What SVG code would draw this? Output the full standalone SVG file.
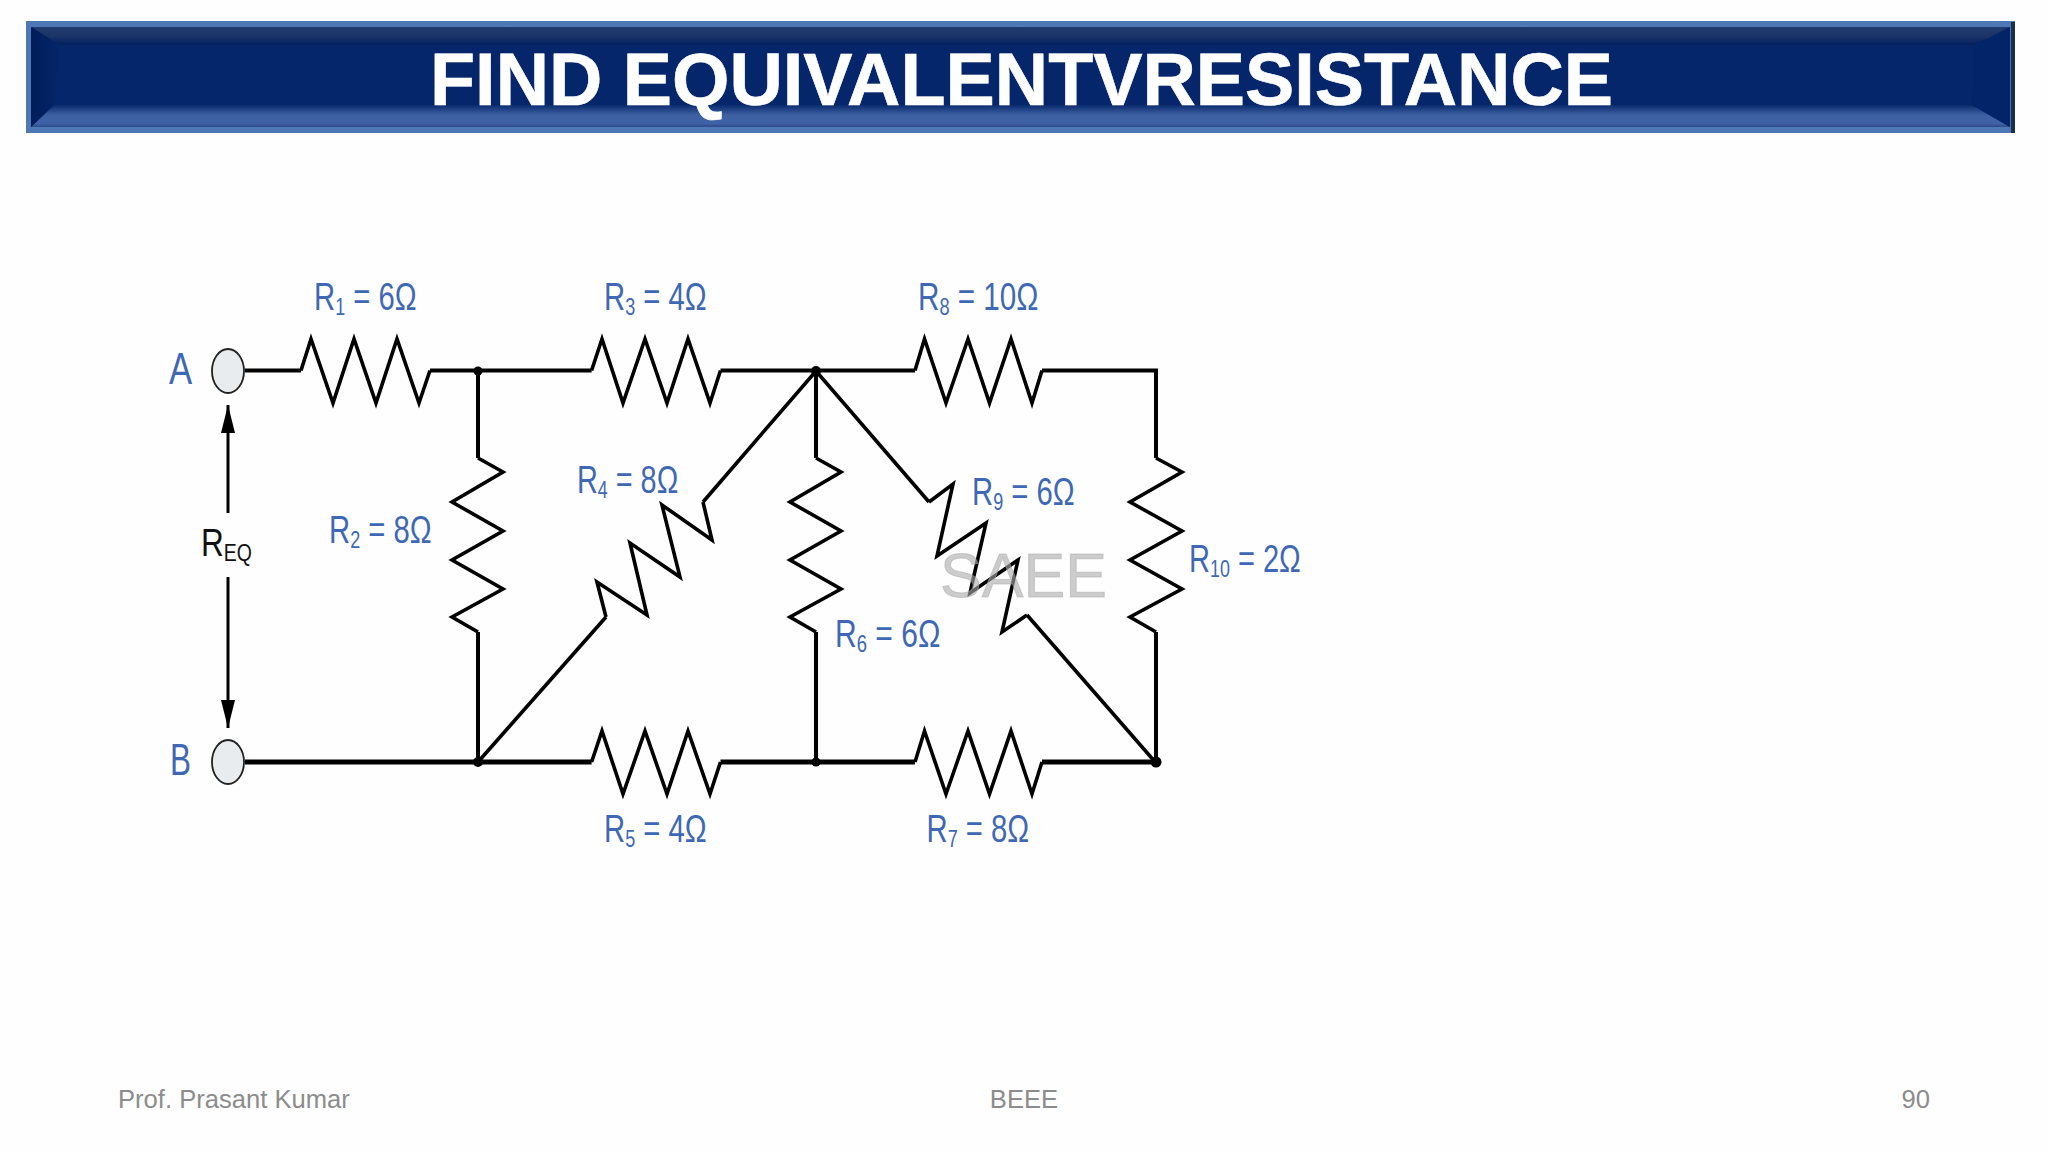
<svg xmlns="http://www.w3.org/2000/svg" width="2048" height="1152" viewBox="0 0 2048 1152">
<style>
.z{fill:none;stroke:#000;stroke-width:3.6;stroke-linejoin:miter;stroke-miterlimit:6}
.w{fill:none;stroke:#000;stroke-width:4}
.a{fill:none;stroke:#000;stroke-width:3}
.l{font-family:"Liberation Sans",Arial,sans-serif;font-size:39px;fill:#3f68b4}
.s{font-size:24px}
.t{fill:#e9ecef;stroke:#222;stroke-width:1.8}
.f{font-family:"Liberation Sans",Arial,sans-serif;font-size:25.6px;fill:#8c8c8c}
</style>
<defs>
<linearGradient id="gt" x1="0" y1="0" x2="0" y2="1"><stop offset="0" stop-color="#223b6e"/><stop offset=".5" stop-color="#1c3569"/><stop offset="1" stop-color="#02205f"/></linearGradient>
<linearGradient id="gb" x1="0" y1="0" x2="0" y2="1"><stop offset="0" stop-color="#0a2b6c"/><stop offset=".45" stop-color="#3d60a3"/><stop offset=".85" stop-color="#3f62a6"/><stop offset="1" stop-color="#2c4a86"/></linearGradient>
<linearGradient id="gl" x1="0" y1="0" x2="1" y2="0"><stop offset="0" stop-color="#011d58"/><stop offset="1" stop-color="#05266a"/></linearGradient>
<marker id="ar" viewBox="0 0 28 14" refX="28" refY="7" markerWidth="28" markerHeight="14" orient="auto" markerUnits="userSpaceOnUse"><path d="M0 0L28 7L0 14Z" fill="#000"/></marker>
</defs>
<rect width="2048" height="1152" fill="#fefefe"/>
<g id="title-bar">
<rect x="26" y="21" width="1989" height="112" fill="#4d78b5"/>
<rect x="31" y="27" width="1979" height="100" fill="#05266a"/>
<polygon points="31,27 2010,27 1975,45 60,45" fill="url(#gt)"/>
<polygon points="31,127 2010,127 1972,105 54,105" fill="url(#gb)"/>
<polygon points="31,27 60,45 54,105 31,127" fill="url(#gl)"/>
<polygon points="2010,27 1975,45 1972,105 2010,127" fill="#04246a"/>
<rect x="2011" y="22" width="4" height="111" fill="#1a3048"/>
<text x="1021.500" y="105" text-anchor="middle" textLength="1183" lengthAdjust="spacingAndGlyphs" style="font-family:'Liberation Sans',Arial,sans-serif;font-weight:700;font-size:74px;fill:#fff;stroke:#fff;stroke-width:.6">FIND EQUIVALENTVRESISTANCE</text>
</g>
<g id="connectors">
<path class="w" d="M245 370.5H301M430 370.5H591.6M720.5 370.5H915M1042 370.5H1156V458"/>
<path class="w" style="stroke-width:5" d="M245 762H591.6M720.5 762H915M1042 762H1156"/>
<path class="w" d="M478 370.5V458M478 632V762M816 370.5V458M816 632V762M1156 632V762"/>
<path class="z" d="M478 762L606 617M703 502L816 371L929 502M1027 615L1156 763"/>
<path class="a" marker-end="url(#ar)" d="M228 513V405"/>
<path class="a" marker-end="url(#ar)" d="M228 577V728"/>
<circle cx="478" cy="371" r="4.5"/><circle cx="816" cy="371" r="5"/><circle cx="478" cy="762" r="5"/><circle cx="816" cy="762" r="4.5"/><circle cx="1156" cy="762" r="5.5"/>
</g>
<g id="A"><ellipse class="t" cx="228" cy="371" rx="16" ry="22"/><text class="l" transform="translate(169 384) scale(.77 1)" style="font-size:45px">A</text></g>
<g id="B"><ellipse class="t" cx="228" cy="762" rx="16" ry="22"/><text class="l" transform="translate(170 775) scale(.7 1)" style="font-size:45px">B</text></g>
<g id="REQ"><text class="l" transform="translate(201 556) scale(.81 1)" style="fill:#111">R<tspan class="s" dy="5">EQ</tspan></text></g>
<g id="R1"><polyline class="z" points="301,370.5 311,339 333,403 354,339 376,403 397,339 419,403 430,370.5"/><text class="l" transform="translate(314 310) scale(.75 1)">R<tspan class="s" dy="5">1</tspan><tspan dy="-5"> = 6Ω</tspan></text></g>
<g id="R2"><polyline class="z" points="478,458 503,472 452,502 503,531 452,560 503,589 452,617 478,632"/><text class="l" transform="translate(329 543) scale(.75 1)">R<tspan class="s" dy="5">2</tspan><tspan dy="-5"> = 8Ω</tspan></text></g>
<g id="R3"><polyline class="z" points="591.6,370.5 602,339 623,403 645,339 667,403 688,339 710,403 720.5,370.5"/><text class="l" transform="translate(604 310) scale(.75 1)">R<tspan class="s" dy="5">3</tspan><tspan dy="-5"> = 4Ω</tspan></text></g>
<g id="R4"><polyline class="z" points="606,617 597,582 647,615 630,543 680,577 662,505 712,540 703,502"/><text class="l" transform="translate(577 493) scale(.74 1)">R<tspan class="s" dy="5">4</tspan><tspan dy="-5"> = 8Ω</tspan></text></g>
<g id="R5"><polyline class="z" points="591.6,762 602,731 623,794 645,731 667,794 688,731 710,794 720.5,762"/><text class="l" transform="translate(604 842) scale(.75 1)">R<tspan class="s" dy="5">5</tspan><tspan dy="-5"> = 4Ω</tspan></text></g>
<g id="R6"><polyline class="z" points="816,458 841,472 790,502 841,531 790,560 841,589 790,617 816,632"/><text class="l" transform="translate(835 647) scale(.77 1)">R<tspan class="s" dy="5">6</tspan><tspan dy="-5"> = 6Ω</tspan></text></g>
<g id="R7"><polyline class="z" points="915,762 924.5,731 946,794 968,731 989.5,794 1011,731 1032,794 1042,762"/><text class="l" transform="translate(926.500 842) scale(.75 1)">R<tspan class="s" dy="5">7</tspan><tspan dy="-5"> = 8Ω</tspan></text></g>
<g id="R8"><polyline class="z" points="915,370.5 924.5,339 946,403 968,339 989.5,403 1011,339 1032,403 1042,370.5"/><text class="l" transform="translate(918 310) scale(.76 1)">R<tspan class="s" dy="5">8</tspan><tspan dy="-5"> = 10Ω</tspan></text></g>
<g id="R9"><polyline class="z" points="929,502 953,484 937,556 986,523 970,593 1018,560 1002,632 1027,615"/><text class="l" transform="translate(972 505) scale(.75 1)">R<tspan class="s" dy="5">9</tspan><tspan dy="-5"> = 6Ω</tspan></text></g>
<g id="R10"><polyline class="z" points="1156,458 1182,472 1130,502 1182,531 1130,560 1182,589 1130,617 1156,632"/><text class="l" transform="translate(1189 572) scale(.745 1)">R<tspan class="s" dy="5">10</tspan><tspan dy="-5"> = 2Ω</tspan></text></g>
<text x="940" y="597" textLength="167" lengthAdjust="spacingAndGlyphs" style="font-family:'Liberation Sans',Arial,sans-serif;font-size:63px;fill:#aaa;fill-opacity:.6;stroke:#aaa;stroke-opacity:.5;stroke-width:1">SAEE</text>
<g id="footer">
<text class="f" x="118" y="1108">Prof. Prasant Kumar</text>
<text class="f" x="1024" y="1108" text-anchor="middle">BEEE</text>
<text class="f" x="1930" y="1108" text-anchor="end">90</text>
</g>
</svg>
